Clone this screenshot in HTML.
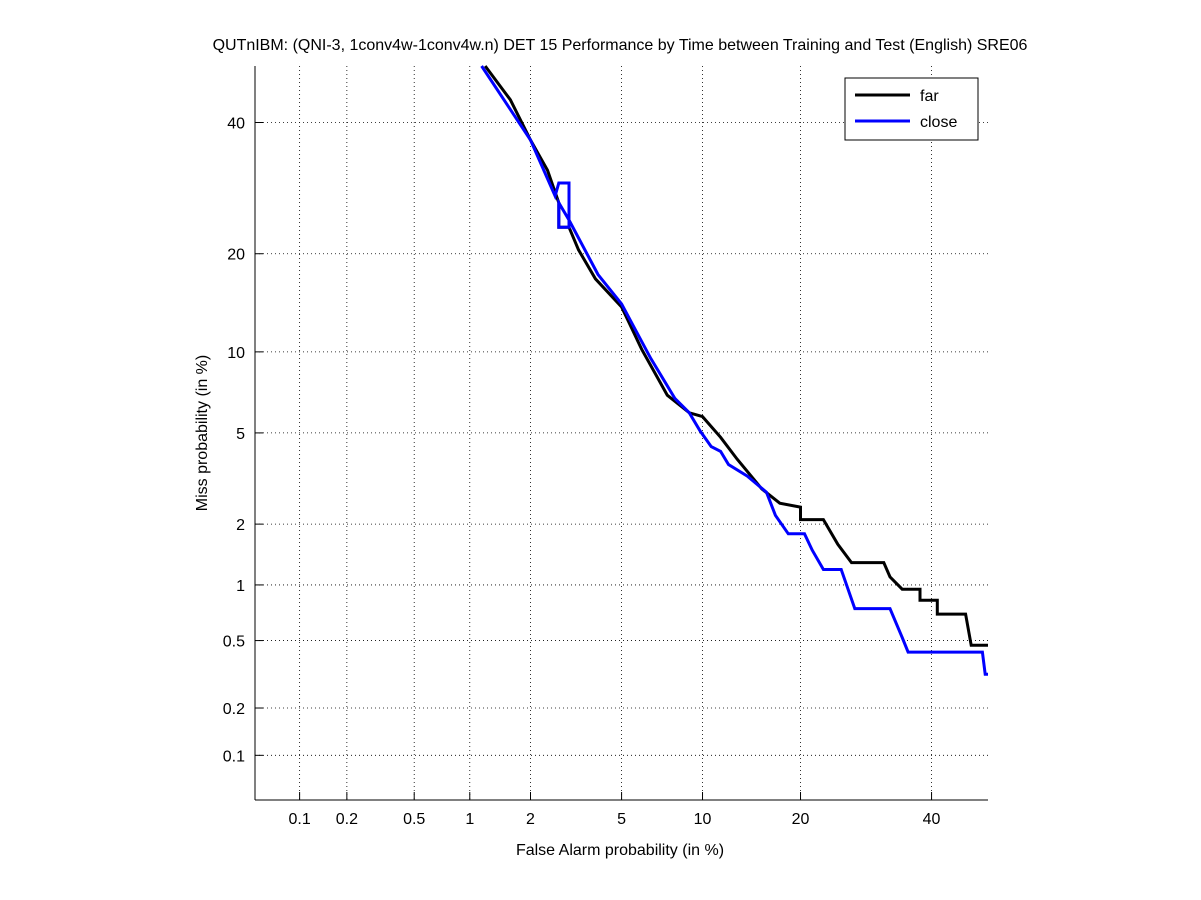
<!DOCTYPE html>
<html><head><meta charset="utf-8"><style>
body{margin:0;background:#fff}
svg{display:block;font-family:"Liberation Sans",sans-serif}
</style></head><body>
<svg id="c" width="1201" height="900"></svg>
<script>
const xTicks=[0.1,0.2,0.5,1,2,5,10,20,40];
const yTicks=[0.1,0.2,0.5,1,2,5,10,20,40];
const farFA=[1.2,1.6,2,2.4,2.7,2.7,3.0,3.3,3.9,5,6,7.5,9,10,11.5,13,15.5,17.5,20,20,23,25,27,32,33,35,38,38,41,41,46,47,50];
const farMiss=[50,44,37,32,27,23.5,23.5,20.5,17,14,10.2,7,6,5.8,4.8,3.9,2.9,2.5,2.4,2.1,2.1,1.6,1.3,1.3,1.1,0.95,0.95,0.83,0.83,0.7,0.7,0.47,0.47];
const closeFA=[1.15,2,2.6,2.7,3.0,3.0,2.7,2.7,3.0,4,5,6.5,8,9,9.8,10.7,11.5,12.2,14,16,17,18.5,20.5,21.5,23,25.5,27.5,33,35,36,49,49.5,50];
const closeMiss=[50,37,28,30,30,23.5,23.5,27,24.5,17.5,14.3,9.5,6.8,6,5.1,4.4,4.2,3.7,3.3,2.8,2.2,1.8,1.8,1.5,1.2,1.2,0.75,0.75,0.52,0.43,0.43,0.32,0.32];
function probit(p){const a=[-39.69683028665376,220.9460984245205,-275.9285104469687,138.3577518672690,-30.66479806614716,2.506628277459239],b=[-54.47609879822406,161.5858368580409,-155.6989798598866,66.80131188771972,-13.28068155288572],c=[-0.007784894002430293,-0.3223964580411365,-2.400758277161838,-2.549732539343734,4.374664141464968,2.938163982698783],d=[0.007784695709041462,0.3224671290700398,2.445134137142996,3.754408661907416];
let q,r;if(p<0.02425){q=Math.sqrt(-2*Math.log(p));return(((((c[0]*q+c[1])*q+c[2])*q+c[3])*q+c[4])*q+c[5])/((((d[0]*q+d[1])*q+d[2])*q+d[3])*q+1);}
if(p>1-0.02425){q=Math.sqrt(-2*Math.log(1-p));return-(((((c[0]*q+c[1])*q+c[2])*q+c[3])*q+c[4])*q+c[5])/((((d[0]*q+d[1])*q+d[2])*q+d[3])*q+1);}
q=p-0.5;r=q*q;return(((((a[0]*r+a[1])*r+a[2])*r+a[3])*r+a[4])*r+a[5])*q/(((((b[0]*r+b[1])*r+b[2])*r+b[3])*r+b[4])*r+1);}
const L=255,R=988,T=66,B=800,lo=probit(0.0005),hi=probit(0.5);
const X=v=>L+(probit(v/100)-lo)/(hi-lo)*(R-L);
const Y=v=>B-(probit(v/100)-lo)/(hi-lo)*(B-T);
const s=document.getElementById('c');const NS='http://www.w3.org/2000/svg';
function el(t,at,txt){const e=document.createElementNS(NS,t);for(const k in at)e.setAttribute(k,at[k]);if(txt!=null)e.textContent=txt;s.appendChild(e);return e;}
let e;
xTicks.forEach(v=>{const x=X(v);
e=el('line',{x1:x,x2:x,y1:T,y2:B,stroke:'#000','stroke-width':0.8,'stroke-dasharray':'1,3'});


e=el('line',{x1:x,x2:x,y1:B-8,y2:B,stroke:'#000','stroke-width':1});


e=el('text',{x:x,y:824,'font-size':16,'text-anchor':'middle'},String(v));

});
yTicks.forEach(v=>{const y=Y(v);
e=el('line',{x1:L,x2:R,y1:y,y2:y,stroke:'#000','stroke-width':0.8,'stroke-dasharray':'1,3'});


e=el('line',{x1:L,x2:L+8,y1:y,y2:y,stroke:'#000','stroke-width':1});


e=el('text',{x:245,y:y+6,'font-size':16,'text-anchor':'end'},String(v));

});
e=el('line',{x1:L,x2:L,y1:T,y2:B,stroke:'#000','stroke-width':1});


e=el('line',{x1:L,x2:R,y1:B,y2:B,stroke:'#000','stroke-width':1});


function line(fa,miss,col,name){const pts=fa.map((f,i)=>X(f).toFixed(1)+','+Y(miss[i]).toFixed(1)).join(' ');
e=el('polyline',{points:pts,fill:'none',stroke:col,'stroke-width':3,'stroke-linejoin':'miter'});

}
line(farFA,farMiss,'#000','far-curve');
line(closeFA,closeMiss,'#00f','close-curve');
e=el('rect',{x:845,y:78,width:133,height:62,fill:'#fff',stroke:'#000'});


e=el('line',{x1:855,x2:910,y1:95,y2:95,stroke:'#000','stroke-width':3});


e=el('text',{x:920,y:101,'font-size':16},'far');


e=el('line',{x1:855,x2:910,y1:121,y2:121,stroke:'#00f','stroke-width':3});


e=el('text',{x:920,y:127,'font-size':16},'close');


e=el('text',{x:620,y:50,'font-size':16,'text-anchor':'middle'},'QUTnIBM: (QNI-3, 1conv4w-1conv4w.n) DET 15 Performance by Time between Training and Test (English) SRE06');


e=el('text',{x:620,y:855,'font-size':16,'text-anchor':'middle'},'False Alarm probability (in %)');


e=el('text',{x:207,y:433,'font-size':16,'text-anchor':'middle',transform:'rotate(-90 207 433)'},'Miss probability (in %)');


</script>
</body></html>
